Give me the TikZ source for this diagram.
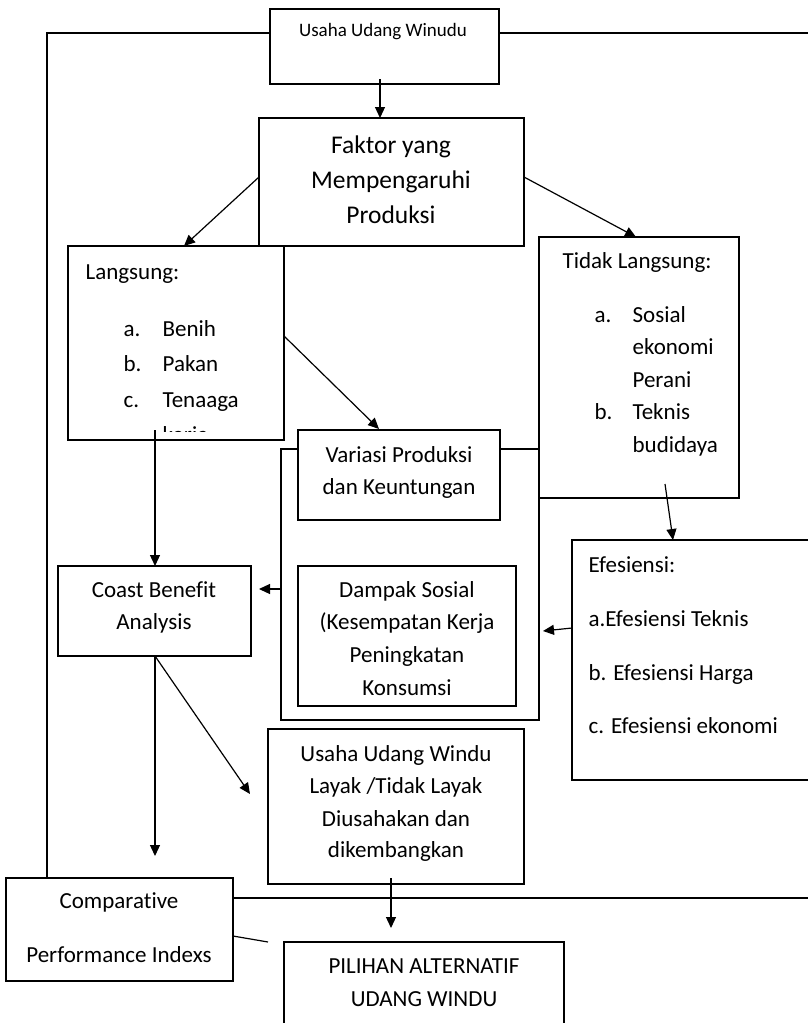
\documentclass[tikz,border=0pt]{standalone}
\usepackage{fontspec}
\setmainfont{Carlito}[Ligatures=NoCommon]
\usetikzlibrary{arrows.meta}
\begin{document}
\begin{tikzpicture}[x=1pt,y=-1pt,line width=1.2pt,
  box/.style={draw,fill=white,inner sep=0pt,outer sep=0pt,anchor=north west},
  tx/.style={font=\fontsize{23}{28}\selectfont,inner sep=0pt,anchor=base},
  txl/.style={tx,anchor=base west},
  arr/.style={-{Triangle[length=11pt,width=10pt]}}]
\useasboundingbox (0,0) rectangle (808,1023);
\clip (0,0) rectangle (808,1023);
% boxes
\node[box,minimum width=229pt,minimum height=75pt] (b1) at (270,9) {};
\node[box,minimum width=265pt,minimum height=128pt] (faktor) at (259,118) {};
\node[box,minimum width=216pt,minimum height=194pt] (lang) at (68,246) {};
\node[box,minimum width=200pt,minimum height=261pt] (tidak) at (539,237) {};
\node[box,minimum width=258pt,minimum height=271pt] (cont) at (281,449) {};
\node[box,minimum width=202pt,minimum height=90pt] (variasi) at (298,430) {};
\node[box,minimum width=218pt,minimum height=140pt] (dampak) at (298,566) {};
\node[box,minimum width=193pt,minimum height=90pt] (coast) at (58,566) {};
\node[box,minimum width=250pt,minimum height=240pt] (efes) at (572,540) {};
\node[box,minimum width=256pt,minimum height=155pt] (usaha) at (268,729) {};
\node[box,minimum width=227pt,minimum height=103pt] (comp) at (6,878) {};
\node[box,minimum width=280pt,minimum height=100pt] (pilihan) at (284,942) {};
% texts
\node[tx,font=\fontsize{19}{22}\selectfont] (t1) at (383,36) {Usaha Udang Winudu};
\node[tx,font=\fontsize{25.5}{28}\selectfont] (f1) at (391,153) {Faktor yang};
\node[tx,font=\fontsize{25.5}{28}\selectfont] (f2) at (391,188) {Mempengaruhi};
\node[tx,font=\fontsize{25.5}{28}\selectfont] (f3) at (391,223) {Produksi};
\node[txl] (l0) at (85,279) {Langsung:};
\node[txl] (la) at (123,336) {a.};
\node[txl] (lb) at (123,371) {b.};
\node[txl] (lc) at (123,407) {c.};
\node[txl] (la2) at (162,336) {Benih};
\node[txl] (lb2) at (162,371) {Pakan};
\node[txl] (lc2) at (162,407) {Tenaaga};
\begin{scope}
\clip (68,246) rectangle (284,431);
\node[txl] (lk) at (162,442) {kerja};
\end{scope}
\node[txl] (g0) at (562,268) {Tidak Langsung:};
\node[txl] (ga) at (594,322) {a.};
\node[txl] (gb) at (594,419) {b.};
\node[txl] (ga1) at (632,322) {Sosial};
\node[txl] (ga2) at (632,354) {ekonomi};
\node[txl] (ga3) at (632,387) {Perani};
\node[txl] (gb1) at (632,419) {Teknis};
\node[txl] (gb2) at (632,452) {budidaya};
\node[tx] (v1) at (399,462) {Variasi Produksi};
\node[tx] (v2) at (399,494) {dan Keuntungan};
\node[tx] (d1) at (407,597) {Dampak Sosial};
\node[tx] (d2) at (407,629) {(Kesempatan Kerja};
\node[tx] (d3) at (407,662) {Peningkatan};
\node[tx] (d4) at (407,695) {Konsumsi};
\node[txl] (e0) at (588,572) {Efesiensi:};
\node[txl] (e1) at (588,626) {a.Efesiensi Teknis};
\node[txl] (e2) at (588,680) {b. Efesiensi Harga};
\node[txl] (e3) at (588,733) {c. Efesiensi ekonomi};
\node[tx] (c1) at (154,597) {Coast Benefit};
\node[tx] (c2) at (154,629) {Analysis};
\node[tx] (u1) at (396,761) {Usaha Udang Windu};
\node[tx] (u2) at (396,793) {Layak /Tidak Layak};
\node[tx] (u3) at (396,826) {Diusahakan dan};
\node[tx] (u4) at (396,857) {dikembangkan};
\node[tx] (p1) at (119,908) {Comparative};
\node[tx] (p2) at (119,962) {Performance Indexs};
\node[tx] (a1) at (424,973) {PILIHAN ALTERNATIF};
\node[tx] (a2) at (424,1006) {UDANG WINDU};
% connector coordinates
\coordinate (topL) at (47,33);
\coordinate (topR) at (812,33);
\coordinate (b1s) at (380,79);
\coordinate (fL) at (259,177);
\coordinate (fR) at (524,177);
\coordinate (langT) at (184,246);
\coordinate (tidT) at (636,237);
\coordinate (lR) at (284,336);
\coordinate (vT) at (379,429);
\coordinate (lB) at (155,430);
\coordinate (cL) at (281,589);
\coordinate (coR) at (259,589);
\coordinate (tB) at (665,484);
\coordinate (eT) at (673,540);
\coordinate (eL) at (572,628);
\coordinate (cR) at (543,631);
\coordinate (coB) at (155,656);
\coordinate (cpA) at (155,856);
\coordinate (usA) at (250,794);
\coordinate (usB) at (391,878);
\coordinate (piA) at (391,928);
\coordinate (cpR) at (233,898);
\coordinate (rR) at (812,898);
\coordinate (cpR2) at (233,936);
\coordinate (piL) at (268,942);
% connectors
\draw (comp.north -| topL) -- (topL) -- (topL -| b1.west);
\draw (b1.east |- topR) -- (topR);
\draw[arr] (b1s) -- (b1s |- faktor.north);
\draw[arr] (fL) -- (langT);
\draw[arr] (fR) -- (tidT);
\draw[arr] (lR) -- (vT);
\draw[arr] (lB) -- (lB |- coast.north);
\draw[arr] (cL) -- (coR);
\draw[arr] (tB) -- (eT);
\draw[arr] (eL) -- (cR);
\draw[arr] (coB) -- (cpA);
\draw[arr] (coB) -- (usA);
\draw[arr] (usB) -- (piA);
\draw (cpR) -- (rR);
\draw (cpR2) -- (piL);
\end{tikzpicture}
\end{document}
